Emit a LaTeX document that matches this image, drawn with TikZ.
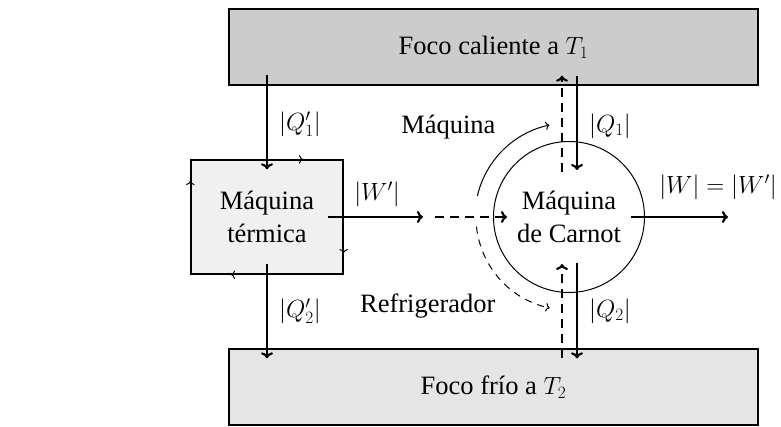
\documentclass[tikz,border=0pt]{standalone}
\usepackage{fontspec}
\setmainfont{Liberation Serif}
\usetikzlibrary{arrows.meta,calc}
\begin{document}
\begin{tikzpicture}[x=1pt,y=-1pt,
  every node/.style={font=\fontsize{26.5}{32.5}\selectfont},
  box/.style={draw, line width=1.4pt, inner sep=0pt, align=center},
  flow/.style={line width=2.1pt, -{To[length=6pt,width=12pt]}},
  dflow/.style={flow, dash pattern=on 9pt off 6pt},
  thinarr/.style={line width=1pt, -{To[length=4pt,width=8.5pt]}},
  thindash/.style={thinarr, dash pattern=on 7pt off 6pt},
]
\useasboundingbox (0,0) rectangle (781,426);
% boxes
\node[box, fill=black!20, minimum width=529pt, minimum height=76pt] (hot) at (493.5,47) {Foco caliente a $T_1$};
\node[box, fill=black!10, minimum width=529pt, minimum height=76pt] (cold) at (493.5,387) {Foco frío a $T_2$};
\node[box, fill=black!6, minimum width=152pt, minimum height=114pt] (eng) at (267,217) {Máquina\\térmica};
\node[draw, circle, line width=1pt, minimum size=151pt, inner sep=0pt, align=center] (carnot) at (569,217) {Máquina\\de Carnot};
% cycle marks on the engine box
\draw[thinarr] ([xshift=30pt]eng.north) -- ([xshift=36pt]eng.north);
\draw[thinarr] ([yshift=-30pt]eng.east) -- ([yshift=-36pt]eng.east);
\draw[thinarr] ([xshift=-30pt]eng.south) -- ([xshift=-36pt]eng.south);
\draw[thinarr] ([yshift=30pt]eng.west) -- ([yshift=36pt]eng.west);
% heat flows of the engine
\draw[flow, shorten <=-11pt, shorten >=-10pt] (hot.south -| eng.north) -- (eng.north);
\draw[flow, shorten <=-11pt, shorten >=-10pt] (eng.south) -- (eng.south |- cold.north);
% heat flows of the Carnot machine
\coordinate (c1) at ($(carnot.center)+(8,-47)$);
\coordinate (c2) at ($(carnot.center)+(-7,-45)$);
\coordinate (c3) at ($(carnot.center)+(-7,47)$);
\coordinate (c4) at ($(carnot.center)+(8,46)$);
\draw[flow, shorten <=-10pt] (hot.south -| c1) -- (c1);
\draw[dflow, shorten >=-10pt] (c2) -- (hot.south -| c2);
\draw[dflow, shorten <=-10pt] (cold.north -| c3) -- (c3);
\draw[flow, shorten >=-10pt] (c4) -- (cold.north -| c4);
% work
\coordinate (wmid) at (423,217);
\coordinate (wend) at (728,217);
\draw[flow] ([xshift=-16pt]eng.east) -- (wmid);
\draw[dflow] ([xshift=12pt]wmid) -- ([xshift=14pt]carnot.west);
\draw[flow] ([xshift=-14pt]carnot.east) -- (wend);
% arcs
\draw[thinarr] ($(carnot.center)+(-167:94)$) arc[start angle=-167, end angle=-102, radius=94];
\draw[thindash] ($(carnot.center)+(-186:93)$) arc[start angle=-186, end angle=-258, radius=93];
% labels
\node[anchor=base east] (lmaq) at (499,133) {Máquina};
\node[anchor=base east] (lref) at (499,312) {Refrigerador};
\node (lq1p) at (300,124) {$|Q'_1|$};
\node (lq2p) at (300,311) {$|Q'_2|$};
\node (lq1) at (610,126) {$|Q_1|$};
\node (lq2) at (610,311) {$|Q_2|$};
\node (lwp) at (377,194) {$|W'|$};
\node (lw) at (718,187) {$|W| = |W'|$};
\end{tikzpicture}
\end{document}
